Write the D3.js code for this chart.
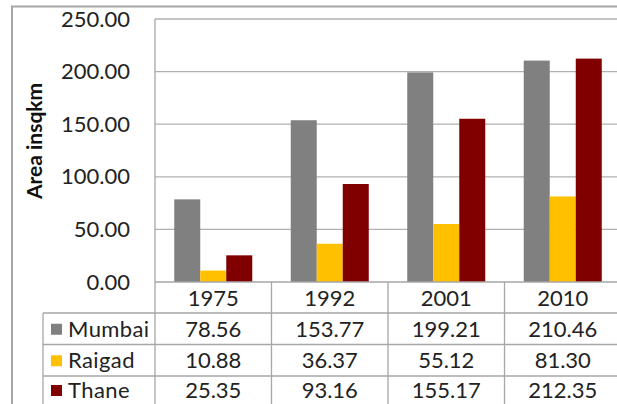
<!DOCTYPE html>
<html><head><meta charset="utf-8">
<script src="https://cdn.jsdelivr.net/npm/d3@7"></script>
<style>body{margin:0;background:#fff}svg{display:block}</style>
</head><body>
<script>
const years = ["1975","1992","2001","2010"];
const seriesNames = ["Mumbai","Raigad","Thane"];
const mumbai = [78.56,153.77,199.21,210.46];
const raigad = [10.88,36.37,55.12,81.30];
const thane = [25.35,93.16,155.17,212.35];
const yTicks = [0,50,100,150,200,250];
const colors = ["#808080","#FFC000","#800000"];
const series = [mumbai, raigad, thane];

const W=617,H=404;
const svg=d3.select("body").append("svg").attr("width",W).attr("height",H);
const font="Lato, 'Open Sans', sans-serif";
const fs=22;
const plotL=155, plotT=19, plotB=282, colW=116.5;
const x=d3.scaleBand().domain(years).range([plotL,plotL+colW*years.length]).paddingInner(0).paddingOuter(0);
const x1=d3.scaleBand().domain(seriesNames).range([0,x.bandwidth()]).paddingOuter(0.74).paddingInner(0);
const y=d3.scaleLinear().domain([0,250]).range([plotB,plotT]);
const grid="#b0b0b0";

// outer frame
svg.append("path").attr("d",`M12,${H}V6.5H${W}`).attr("fill","none").attr("stroke","#a6a6a6").attr("stroke-width",2);

// gridlines
svg.append("g").selectAll("line").data(yTicks.filter(d=>d>0)).join("line")
 .attr("x1",plotL).attr("x2",W).attr("y1",d=>y(d)).attr("y2",d=>y(d)).attr("stroke",grid).attr("stroke-width",1.3);

// y axis labels
const yAxis=d3.axisLeft(y).tickValues(yTicks).tickFormat(d3.format(".2f")).tickSize(0).tickPadding(25);
const ya=svg.append("g").attr("transform",`translate(${plotL},0)`).call(yAxis);
ya.select(".domain").remove();
ya.selectAll("text").attr("font-family",font).attr("font-size",fs).attr("fill","#222");

// bars
const g=svg.append("g");
years.forEach((yr,i)=>{
  seriesNames.forEach((s,j)=>{
    g.append("rect").attr("x",x(yr)+x1(s)).attr("width",x1.bandwidth())
     .attr("y",y(series[j][i])).attr("height",y(0)-y(series[j][i])).attr("fill",colors[j]);
  });
});

// axis title
svg.append("text").attr("transform",`translate(42,141) rotate(-90)`).attr("text-anchor","middle")
 .attr("font-family",font).attr("font-weight","bold").attr("font-size",21).attr("fill","#111").text("Area insqkm");

// table
const rowT=[282,313,344.5,376,404];
const lineC="#a6a6a6";
const tg=svg.append("g").attr("stroke",lineC).attr("stroke-width",1.3);
tg.append("line").attr("x1",plotL).attr("x2",W).attr("y1",plotB).attr("y2",plotB);
[1,2,3].forEach(r=>tg.append("line").attr("x1",43).attr("x2",W).attr("y1",rowT[r]).attr("y2",rowT[r]));
tg.append("line").attr("x1",plotL).attr("x2",plotL).attr("y1",plotT).attr("y2",H);
tg.append("line").attr("x1",43).attr("x2",43).attr("y1",rowT[1]).attr("y2",H);
years.forEach(yr=>{ const xx=x(yr)+x.bandwidth(); tg.append("line").attr("x1",xx).attr("x2",xx).attr("y1",plotB).attr("y2",H);});

// header
svg.append("g").selectAll("text").data(years).join("text")
 .attr("x",d=>x(d)+x.bandwidth()/2).attr("y",(rowT[0]+rowT[1])/2+8).attr("text-anchor","middle")
 .attr("font-family",font).attr("font-size",fs).attr("fill","#222").text(d=>d);

seriesNames.forEach((s,j)=>{
  const cy=(rowT[j+1]+rowT[j+2])/2;
  svg.append("rect").attr("x",51).attr("y",cy-5).attr("width",11).attr("height",11).attr("fill",colors[j]);
  svg.append("text").attr("x",68).attr("y",cy+8).attr("font-family",font).attr("font-size",fs)
   .attr("letter-spacing",0.4).attr("fill","#222").text(s);
  years.forEach((yr,i)=>{
    svg.append("text").attr("x",x(yr)+x.bandwidth()/2).attr("y",cy+8).attr("text-anchor","middle")
     .attr("font-family",font).attr("font-size",fs).attr("fill","#222").text(series[j][i].toFixed(2));
  });
});
</script>
</body></html>
